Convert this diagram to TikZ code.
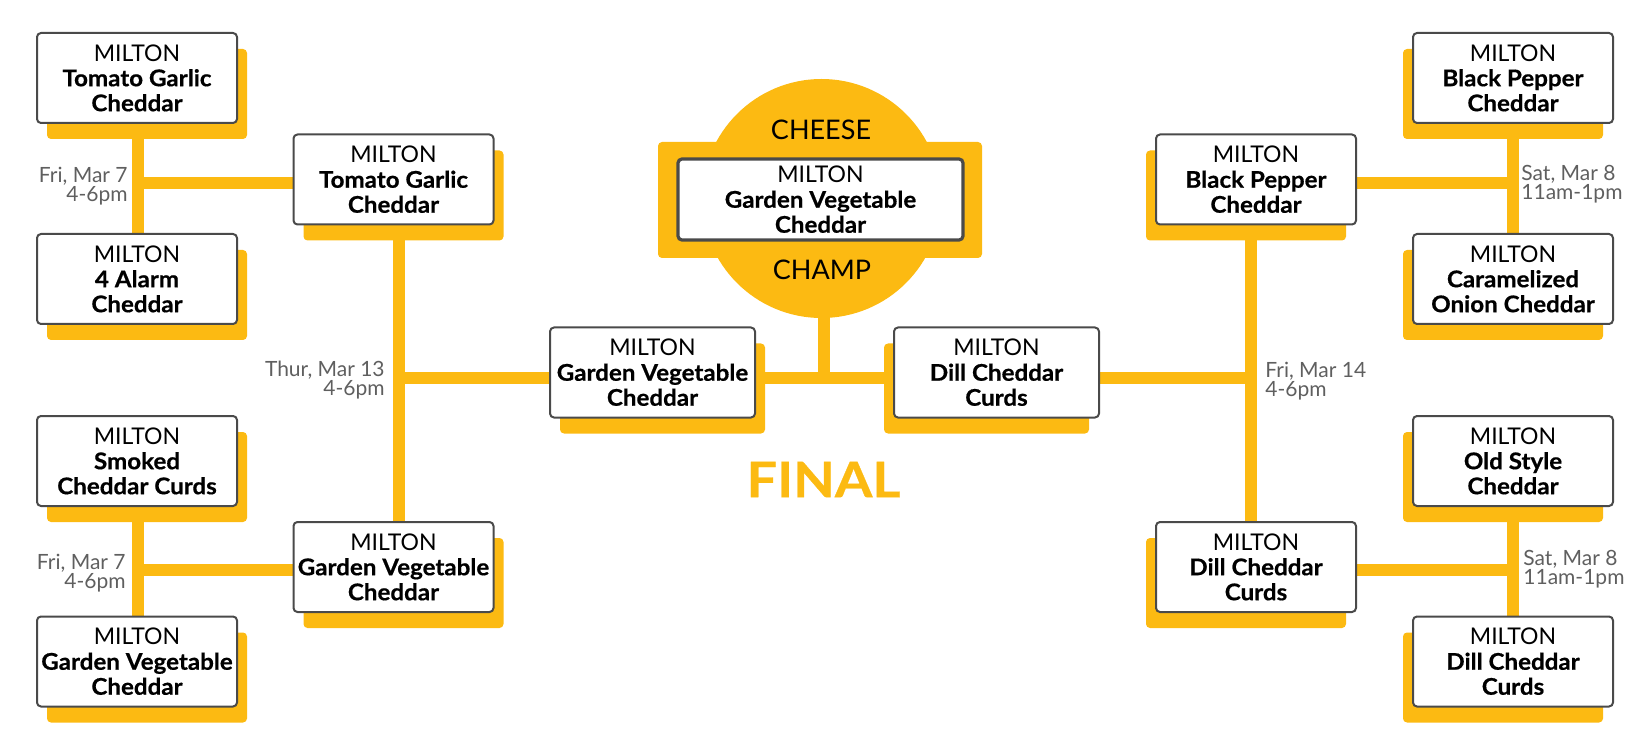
\documentclass[tikz,border=0pt]{standalone}
\usepackage{fontspec}
\setmainfont{Lato}[BoldFeatures={FakeStretch=1.05, FakeBold=0.6}]
\usetikzlibrary{shadows}
\definecolor{cheese}{HTML}{FCBA12}
\definecolor{edge}{HTML}{4A4A4A}
\definecolor{dategray}{HTML}{5F5F5F}
\pgfdeclarelayer{bg}
\pgfsetlayers{bg,main}
\tikzset{
  team/.style={draw=edge, line width=1pt, fill=white, rounded corners=2pt,
    minimum width=100pt, minimum height=45pt, align=center, inner sep=0pt,
    font=\fontsize{11.5}{12.5}\selectfont},
  lshadow/.style={general shadow={fill=cheese, shadow xshift=5pt, shadow yshift=-8pt}},
  rshadow/.style={general shadow={fill=cheese, shadow xshift=-5pt, shadow yshift=-8pt}},
  wire/.style={draw=cheese, line width=6pt},
  datel/.style={text=dategray, font=\fontsize{10.5}{9.5}\selectfont, inner sep=0pt, align=right, anchor=east},
  dater/.style={text=dategray, font=\fontsize{10.5}{9.5}\selectfont, inner sep=0pt, align=left, anchor=west},
  bigword/.style={font=\fontsize{13.5}{14}\selectfont, inner sep=0pt},
}
\begin{document}
\begin{tikzpicture}[x=0.5pt, y=-0.5pt]
\useasboundingbox (0,0) rectangle (1650,754);

% ---- champion plate ----
\node[circle, fill=cheese, minimum size=119.5pt, inner sep=0pt] (circ) at (821.5,198.5) {};
\node[fill=cheese, rounded corners=2pt, minimum width=162pt, minimum height=58pt, inner sep=0pt] (plate) at (820,200) {};
\node[team, line width=1.6pt, minimum width=142.5pt, minimum height=40.5pt] (champ) at (820.5,199.5)
  {MILTON\\\textbf{Garden Vegetable}\\\textbf{Cheddar}};
\node[bigword] (cheeseword) at (821,130) {CHEESE};
\node[bigword] (champword) at (822,270) {CHAMP};

% ---- left round 1 ----
\node[team, lshadow] (tl1) at (137,78) {MILTON\\\textbf{Tomato Garlic}\\\textbf{Cheddar}};
\node[team, lshadow] (tl2) at (137,279) {MILTON\\\textbf{4 Alarm}\\\textbf{Cheddar}};
\node[team, lshadow] (bl1) at (137,461) {MILTON\\\textbf{Smoked}\\\textbf{Cheddar Curds}};
\node[team, lshadow] (bl2) at (137,661.5) {MILTON\\\textbf{Garden Vegetable}\\\textbf{Cheddar}};

% ---- left round 2 ----
\node[team, lshadow] (r2a) at (393.5,179.5) {MILTON\\\textbf{Tomato Garlic}\\\textbf{Cheddar}};
\node[team, lshadow] (r2b) at (393.5,567) {MILTON\\\textbf{Garden Vegetable}\\\textbf{Cheddar}};

% ---- semis ----
\node[team, lshadow, minimum width=102.5pt] (sl) at (652.5,372.5) {MILTON\\\textbf{Garden Vegetable}\\\textbf{Cheddar}};
\node[team, rshadow, minimum width=102.5pt] (sr) at (996.5,372.5) {MILTON\\\textbf{Dill Cheddar}\\\textbf{Curds}};

% ---- right round 2 ----
\node[team, rshadow] (r3a) at (1256,179.5) {MILTON\\\textbf{Black Pepper}\\\textbf{Cheddar}};
\node[team, rshadow] (r3b) at (1256,567) {MILTON\\\textbf{Dill Cheddar}\\\textbf{Curds}};

% ---- right round 1 ----
\node[team, rshadow] (tr1) at (1513,78) {MILTON\\\textbf{Black Pepper}\\\textbf{Cheddar}};
\node[team, rshadow] (tr2) at (1513,279) {MILTON\\\textbf{Caramelized}\\\textbf{Onion Cheddar}};
\node[team, rshadow] (br1) at (1513,461) {MILTON\\\textbf{Old Style}\\\textbf{Cheddar}};
\node[team, rshadow] (br2) at (1513,661.5) {MILTON\\\textbf{Dill Cheddar}\\\textbf{Curds}};

% ---- dates ----
\node[datel] (d1) at (128,186) {Fri, Mar 7\\4-6pm};
\node[datel] (d2) at (126,573) {Fri, Mar 7\\4-6pm};
\node[datel] (d3) at (385,380) {Thur, Mar 13\\4-6pm};
\node[dater] (d4) at (1265,381) {Fri, Mar 14\\4-6pm};
\node[dater] (d5) at (1521,184) {Sat, Mar 8\\11am-1pm};
\node[dater] (d6) at (1523,569) {Sat, Mar 8\\11am-1pm};

\node[text=cheese, inner sep=0pt, font=\fontsize{24.5}{25}\selectfont\bfseries] (final) at (823.5,479.5) {\scalebox{1.05}[1]{FINAL}};

% ---- junctions ----
\coordinate (a1) at (137.5,183);
\coordinate (a2) at (137.5,569.5);
\coordinate (ql) at (398.5,378.5);
\coordinate (jf) at (824,378.5);
\coordinate (qr) at (1251,378.5);
\coordinate (b1) at (1512.5,183.5);
\coordinate (b2) at (1512.5,570);

\begin{pgfonlayer}{bg}
  \draw[wire] (a1 |- tl1.center) -- (a1 |- tl2.center);
  \draw[wire] (a1) -- (a1 -| r2a.west);
  \draw[wire] (a2 |- bl1.center) -- (a2 |- bl2.center);
  \draw[wire] (a2) -- (a2 -| r2b.west);
  \draw[wire] (ql |- r2a.center) -- (ql |- r2b.center);
  \draw[wire] (ql) -- (ql -| sl.west);
  \draw[wire] (jf -| sl.east) -- (jf -| sr.west);
  \draw[wire] (jf |- circ.center) -- (jf);
  \draw[wire] (qr |- r3a.center) -- (qr |- r3b.center);
  \draw[wire] (qr) -- (qr -| sr.east);
  \draw[wire] (b1 |- tr1.center) -- (b1 |- tr2.center);
  \draw[wire] (b1) -- (b1 -| r3a.east);
  \draw[wire] (b2 |- br1.center) -- (b2 |- br2.center);
  \draw[wire] (b2) -- (b2 -| r3b.east);
\end{pgfonlayer}
\end{tikzpicture}
\end{document}
